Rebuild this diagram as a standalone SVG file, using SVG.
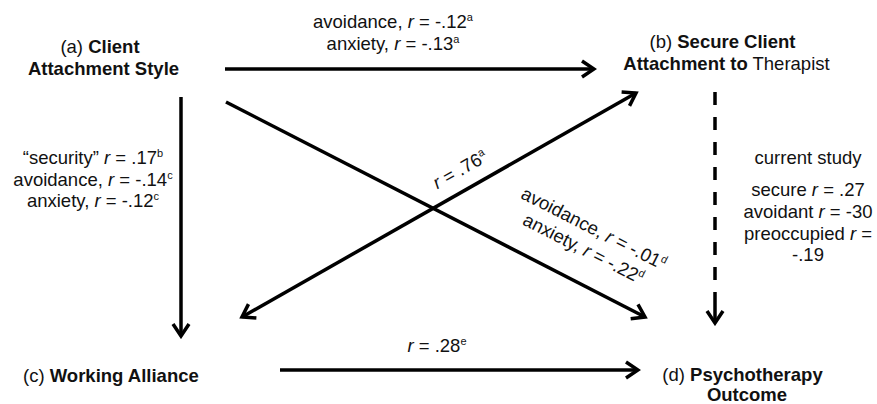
<svg xmlns="http://www.w3.org/2000/svg" width="877" height="404" viewBox="0 0 877 404">
<defs>
<style>
text{font-family:"Liberation Sans",Arial,sans-serif;font-size:18.5px;fill:#111}
.b{font-weight:bold}
.i{font-style:italic}
.sup{font-size:11px}
.ln{stroke:#000;stroke-width:3.5;fill:none}
.dash{stroke-dasharray:13 12}
</style>
<marker id="ah" viewBox="0 0 16 20" refX="13" refY="10" markerWidth="16" markerHeight="20" markerUnits="userSpaceOnUse" orient="auto-start-reverse">
<path d="M1,2 L13,10 L1,18" fill="none" stroke="#000" stroke-width="3.5"/>
</marker>
</defs>
<rect width="877" height="404" fill="#fff"/>

<g id="connectors">
<line class="ln" x1="225" y1="69" x2="594" y2="69" marker-end="url(#ah)"/>
<line class="ln" x1="181" y1="97" x2="181" y2="336" marker-end="url(#ah)"/>
<line class="ln" x1="226" y1="102" x2="645" y2="317" marker-end="url(#ah)"/>
<line class="ln" x1="242" y1="317" x2="636" y2="93" marker-start="url(#ah)" marker-end="url(#ah)"/>
<line class="ln dash" x1="715" y1="92" x2="715" y2="302"/>
<line class="ln" x1="715" y1="302" x2="715" y2="323" marker-end="url(#ah)"/>
<line class="ln" x1="280" y1="370" x2="638" y2="370" marker-end="url(#ah)"/>

<text x="393" y="28" text-anchor="middle">avoidance, <tspan class="i">r</tspan> = -.12<tspan class="sup" dy="-7">a</tspan></text>
<text x="393" y="50" text-anchor="middle">anxiety, <tspan class="i">r</tspan> = -.13<tspan class="sup" dy="-7">a</tspan></text>

<text x="93" y="164" text-anchor="middle">“security” <tspan class="i">r</tspan> = .17<tspan class="sup" dy="-7">b</tspan></text>
<text x="93" y="186" text-anchor="middle">avoidance, <tspan class="i">r</tspan> = -.14<tspan class="sup" dy="-7">c</tspan></text>
<text x="93" y="207" text-anchor="middle">anxiety, <tspan class="i">r</tspan> = -.12<tspan class="sup" dy="-7">c</tspan></text>

<text transform="translate(463,175) rotate(-29.6)" text-anchor="middle"><tspan class="i">r</tspan> = .76<tspan class="sup" dy="-7">a</tspan></text>

<g transform="translate(591,234) rotate(27)">
<text x="0" y="0" text-anchor="middle">avoidance, <tspan class="i">r</tspan> = -.01<tspan class="sup" dy="-7">d</tspan></text>
<text x="0" y="22.7" text-anchor="middle">anxiety, <tspan class="i">r</tspan> = -.22<tspan class="sup" dy="-7">d</tspan></text>
</g>

<text x="808" y="164" text-anchor="middle">current study</text>
<text x="808" y="196" text-anchor="middle">secure <tspan class="i">r</tspan> = .27</text>
<text x="808" y="218" text-anchor="middle">avoidant <tspan class="i">r</tspan> = -30</text>
<text x="808" y="240" text-anchor="middle">preoccupied <tspan class="i">r</tspan> =</text>
<text x="808" y="261" text-anchor="middle">-.19</text>

<text x="437" y="352" text-anchor="middle"><tspan class="i">r</tspan> = .28<tspan class="sup" dy="-7">e</tspan></text>
</g>

<g id="node-a">
<text x="100" y="53" text-anchor="middle">(a) <tspan class="b">Client</tspan></text>
<text x="103.5" y="75" text-anchor="middle" class="b">Attachment Style</text>
</g>

<g id="node-b">
<text x="722.5" y="48" text-anchor="middle">(b) <tspan class="b">Secure Client</tspan></text>
<text x="726.5" y="70" text-anchor="middle"><tspan class="b">Attachment to</tspan> Therapist</text>
</g>

<g id="node-c">
<text x="23" y="382">(c) <tspan class="b">Working Alliance</tspan></text>
</g>

<g id="node-d">
<text x="742.5" y="381" text-anchor="middle">(d) <tspan class="b">Psychotherapy</tspan></text>
<text x="747" y="401" text-anchor="middle" class="b">Outcome</text>
</g>
</svg>
